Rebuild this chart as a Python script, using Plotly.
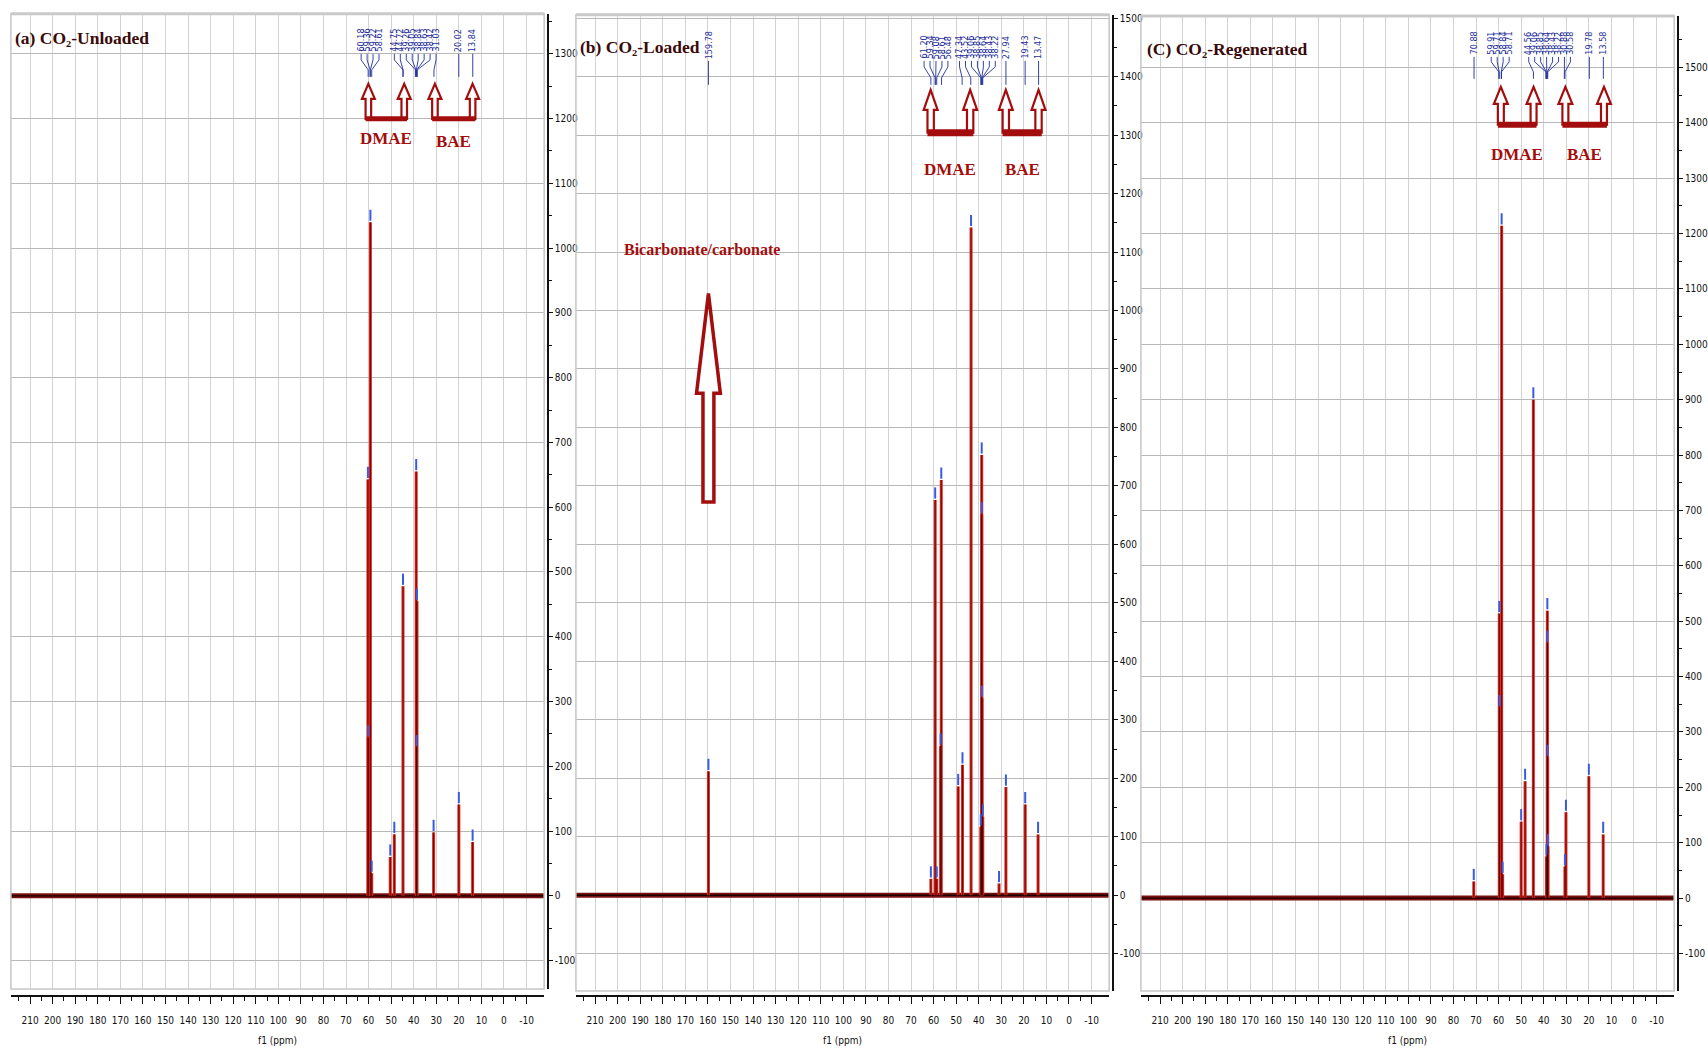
import plotly.graph_objects as go

W, H = 1708, 1050

# ------------------------------------------------------------------ data
x_tick_values = [210, 200, 190, 180, 170, 160, 150, 140, 130, 120, 110, 100,
                 90, 80, 70, 60, 50, 40, 30, 20, 10, 0, -10]
x_tick_labels = ["210", "200", "190", "180", "170", "160", "150", "140", "130",
                 "120", "110", "100", "90", "80", "70", "60", "50", "40", "30",
                 "20", "10", "0", "-10"]

a_y_ticks = [-100, 0, 100, 200, 300, 400, 500, 600, 700, 800, 900, 1000, 1100, 1200, 1300]
b_y_ticks = [-100, 0, 100, 200, 300, 400, 500, 600, 700, 800, 900, 1000, 1100, 1200, 1300, 1400, 1500]
c_y_ticks = [-100, 0, 100, 200, 300, 400, 500, 600, 700, 800, 900, 1000, 1100, 1200, 1300, 1400, 1500]

# (a) CO2-Unloaded
a_title = "(a) CO₂-Unloaded"
a_peak_ppm = [60.30, 60.15, 59.20, 58.62, 50.40, 48.60, 44.75, 38.90, 38.75, 38.55, 31.20, 20.00, 13.90]
a_peak_height = [643, 244, 1040, 35, 60, 95, 478, 655, 229, 455, 98, 141, 83]
a_label_ppm = [60.18, 59.36, 59.22, 58.61, 44.75, 44.72, 39.26, 39.05, 38.84, 38.63, 38.42, 31.03, 20.02, 13.84]
a_dmae_ppm = [60.1, 44.2]
a_bae_ppm = [30.6, 13.9]

# (b) CO2-Loaded
b_title = "(b) CO₂-Loaded"
b_peak_ppm = [159.78, 61.20, 59.30, 58.60, 56.90, 56.60, 49.10, 47.20, 43.40, 39.10, 38.68, 38.66,
              38.54, 38.20, 31.00, 27.95, 19.40, 13.70]
b_peak_height = [212, 28, 676, 28, 255, 710, 186, 223, 1142, 117, 753, 651, 337, 134, 20, 185, 155, 104]
b_label_ppm = [159.78, 61.20, 59.34, 59.08, 58.61, 56.48, 47.34, 43.52, 39.06, 38.85, 38.64, 38.43,
               38.22, 27.94, 19.43, 13.47]
b_dmae_ppm = [61.3, 43.8]
b_bae_ppm = [28.0, 13.5]
b_bicarbonate_ppm = 159.78

# (C) CO2-Regenerated
c_title = "(C) CO₂-Regenerated"
c_peak_ppm = [71.00, 59.70, 59.55, 58.65, 58.20, 50.00, 48.25, 44.60, 38.80, 38.40, 38.38, 38.25,
              38.10, 30.60, 30.15, 20.00, 13.65]
c_peak_height = [30, 514, 344, 1214, 43, 138, 211, 900, 75, 519, 460, 254, 93, 57, 155, 220, 115]
c_label_ppm = [70.88, 59.91, 59.71, 58.84, 58.71, 44.56, 39.06, 38.85, 38.64, 38.43, 38.22, 30.88,
               30.58, 19.78, 13.58]
c_dmae_ppm = [59.0, 44.5]
c_bae_ppm = [30.4, 13.3]

# ------------------------------------------------------------------ style / layout
X_RANGE = [218.5, -17.8]
RED = "#a30d0d"
NAVY = "#1f2f9a"
MARK = "#3a5be0"
TICK_FONT = dict(family="Liberation Sans Narrow, DejaVu Sans Condensed, sans-serif", size=10, color="#111111")
SERIF = "Liberation Serif, Times New Roman, serif"

panels = [
    dict(title=a_title, ppm=a_peak_ppm, h=a_peak_height, labels=a_label_ppm, yticks=a_y_ticks,
         yrange=[-144, 1362], dom_x=(11, 548), dom_y=(11.7, 989), yaxis_x=552, title_xy=(13, 36),
         dmae=a_dmae_ppm, bae=a_bae_ppm,
         arrow=dict(tip=82, head=15, hw=6.5, sw=2.8, bar=117, barw=5), text_y=(137, 140),
         lab=(52, 58, 68, 75)),
    dict(title=b_title, ppm=b_peak_ppm, h=b_peak_height, labels=b_label_ppm, yticks=b_y_ticks,
         yrange=[-164, 1506], dom_x=(580, 1117), dom_y=(12.7, 991), yaxis_x=1121, title_xy=(582, 45),
         dmae=b_dmae_ppm, bae=b_bae_ppm,
         arrow=dict(tip=88, head=20, hw=7, sw=3.2, bar=131, barw=7), text_y=(168, 168),
         lab=(59, 65, 76, 83)),
    dict(title=c_title, ppm=c_peak_ppm, h=c_peak_height, labels=c_label_ppm, yticks=c_y_ticks,
         yrange=[-168, 1593], dom_x=(1149, 1686), dom_y=(14, 991), yaxis_x=1690, title_xy=(1153, 47),
         dmae=c_dmae_ppm, bae=c_bae_ppm,
         arrow=dict(tip=85, head=17, hw=7, sw=3.0, bar=123, barw=6), text_y=(153, 153),
         lab=(55, 60, 70, 77)),
]


def spread_labels(values, gap):
    clusters = [[v] for v in values]

    def positions(cl):
        c = sum(cl) / len(cl)
        n = len(cl)
        return [c + gap * ((n - 1) / 2 - k) for k in range(n)]

    merged = True
    while merged:
        merged = False
        for i in range(len(clusters) - 1):
            left = positions(clusters[i])
            right = positions(clusters[i + 1])
            if left[-1] - gap < right[0]:
                clusters[i] = clusters[i] + clusters[i + 1]
                del clusters[i + 1]
                merged = True
                break
    out = []
    for cl in clusters:
        out += positions(cl)
    return out


fig = go.Figure()
shapes = []
annotations = []

for i, p in enumerate(panels):
    n = "" if i == 0 else str(i + 1)
    xa, ya = "x" + n, "y" + n
    x0px, x1px = p["dom_x"]
    t_px, b_px = p["dom_y"]
    ppm_per_px = (X_RANGE[0] - X_RANGE[1]) / (x1px - x0px)
    ymin, ymax = p["yrange"]
    units_per_px = (ymax - ymin) / (b_px - t_px)

    def ydata(py):
        return ymax - (py - t_px) * units_per_px

    def yp(py):
        return 1 - py / H

    # baseline (noise band)
    fig.add_trace(go.Scatter(x=X_RANGE, y=[0, 0], mode="lines", xaxis=xa, yaxis=ya,
                             line=dict(color="#7a1010", width=5), hoverinfo="skip"))
    fig.add_trace(go.Scatter(x=X_RANGE, y=[0, 0], mode="lines", xaxis=xa, yaxis=ya,
                             line=dict(color="#1a0000", width=1.3), hoverinfo="skip"))
    # peaks as sticks
    sx, sy = [], []
    for ppm, h in zip(p["ppm"], p["h"]):
        sx += [ppm, ppm, None]
        sy += [0, h, None]
    fig.add_trace(go.Scatter(x=sx, y=sy, mode="lines", xaxis=xa, yaxis=ya,
                             line=dict(color="#e2261c", width=3), hoverinfo="skip"))
    fig.add_trace(go.Scatter(x=sx, y=sy, mode="lines", xaxis=xa, yaxis=ya,
                             line=dict(color="#2a0000", width=0.7), hoverinfo="skip"))
    # blue peak markers
    fig.add_trace(go.Scatter(x=p["ppm"], y=[h + 7 * units_per_px for h in p["h"]], mode="markers",
                             xaxis=xa, yaxis=ya, hoverinfo="skip",
                             marker=dict(symbol="line-ns-open", size=8, color=MARK,
                                         line=dict(color=MARK, width=2))))

    # peak labels + connectors
    lab_pos = spread_labels(p["labels"], 6 * ppm_per_px)
    tb, stub, conv, end = p["lab"]
    cx, cy = [], []
    for lx, tv in zip(lab_pos, p["labels"]):
        cx += [lx, lx, tv, tv, None]
        cy += [ydata(tb), ydata(stub), ydata(conv), ydata(end), None]
        annotations.append(dict(text=f"{tv:.2f}", x=lx, xref=xa, y=yp(tb), yref="paper",
                                textangle=-90, xanchor="center", yanchor="bottom", showarrow=False,
                                font=dict(family="DejaVu Sans Condensed, sans-serif", size=9, color=NAVY)))
    fig.add_trace(go.Scatter(x=cx, y=cy, mode="lines", xaxis=xa, yaxis=ya, hoverinfo="skip",
                             line=dict(color=NAVY, width=0.9)))

    # axes
    fig.update_layout(**{
        ("xaxis" + n): dict(domain=[x0px / W, x1px / W], range=X_RANGE, anchor="free",
                            position=1 - 996 / H, showline=True, linecolor="#111111", linewidth=2,
                            ticks="outside", ticklen=7, tickwidth=1.3, tickcolor="#111111",
                            tickvals=x_tick_values, ticktext=x_tick_labels, tickfont=TICK_FONT,
                            ticklabelstandoff=8,
                            minor=dict(tickvals=[v + 5 for v in x_tick_values], ticks="outside",
                                       ticklen=4, tickcolor="#111111", showgrid=False),
                            showgrid=True, gridcolor="#d2d2d2", gridwidth=1, zeroline=False),
        ("yaxis" + n): dict(domain=[1 - b_px / H, 1 - t_px / H], range=p["yrange"], anchor="free",
                            position=p["yaxis_x"] / W, side="right", showline=True,
                            linecolor="#111111", linewidth=1.5, ticks="outside", ticklen=4,
                            tickcolor="#111111", tickvals=p["yticks"],
                            ticktext=[str(v) for v in p["yticks"]], tickfont=TICK_FONT,
                            minor=dict(tickvals=[v + 50 for v in p["yticks"]], ticks="outside",
                                       ticklen=3, tickcolor="#111111", showgrid=False),
                            showgrid=True, gridcolor="#b8b8b8", gridwidth=1.3, zeroline=False),
    })

    # plot frame
    shapes.append(dict(type="rect", xref=xa + " domain", yref=ya + " domain", x0=0, x1=1, y0=0, y1=1,
                       line=dict(color="#c6c6c6", width=1.5)))
    shapes.append(dict(type="line", xref=xa + " domain", yref=ya + " domain", x0=0, x1=1, y0=1, y1=1,
                       line=dict(color="#c9c9c9", width=3)))

    # title
    tx, ty = p["title_xy"]
    annotations.append(dict(text=p["title"], x=tx / W, y=yp(ty), xref="paper", yref="paper",
                            xanchor="left", yanchor="middle", showarrow=False,
                            font=dict(family=SERIF, size=17.5, color="#3a0a0a", weight="bold")))

    # DMAE / BAE brackets
    a = p["arrow"]

    def arrow_path(xc, tip, head_h, hw, sw, bottom):
        pts = [(0, tip), (hw, tip + head_h), (sw, tip + head_h), (sw, bottom), (-sw, bottom),
               (-sw, tip + head_h), (-hw, tip + head_h)]
        return "M " + " L ".join(f"{xc - dx * ppm_per_px:.4f},{yp(py):.5f}" for dx, py in pts) + " Z"

    for grp, name, tyy in ((p["dmae"], "DMAE", p["text_y"][0]), (p["bae"], "BAE", p["text_y"][1])):
        for xc in grp:
            shapes.append(dict(type="path", xref=xa, yref="paper",
                               path=arrow_path(xc, a["tip"], a["head"], a["hw"], a["sw"], a["bar"]),
                               fillcolor="#ffffff", line=dict(color=RED, width=2.2)))
        shapes.append(dict(type="line", xref=xa, yref="paper",
                           x0=grp[0] + a["sw"] * ppm_per_px, x1=grp[1] - a["sw"] * ppm_per_px,
                           y0=yp(a["bar"]), y1=yp(a["bar"]), line=dict(color=RED, width=a["barw"])))
        annotations.append(dict(text=name, x=sum(grp) / len(grp), xref=xa, y=yp(tyy), yref="paper",
                                xanchor="center", yanchor="middle", showarrow=False,
                                font=dict(family=SERIF, size=17, color=RED, weight="bold")))

    # bicarbonate arrow on panel (b)
    if i == 1:
        shapes.append(dict(type="path", xref=xa, yref="paper",
                           path=arrow_path(b_bicarbonate_ppm, 292, 100, 12, 5.5, 501),
                           fillcolor="#ffffff", line=dict(color=RED, width=3.5)))
        annotations.append(dict(text="Bicarbonate/carbonate", x=707 / W, y=yp(248), xref="paper",
                                yref="paper", xanchor="center", yanchor="middle", showarrow=False,
                                font=dict(family=SERIF, size=16, color=RED, weight="bold")))

    # axis title
    annotations.append(dict(text="f1 (ppm)", x=0.5, xref=xa + " domain", y=yp(1040), yref="paper",
                            xanchor="center", yanchor="middle", showarrow=False, font=TICK_FONT))

fig.update_layout(width=W, height=H, margin=dict(l=0, r=0, t=0, b=0),
                  paper_bgcolor="#ffffff", plot_bgcolor="#ffffff", showlegend=False,
                  hovermode=False, shapes=shapes, annotations=annotations)

fig.write_html("out.html")
